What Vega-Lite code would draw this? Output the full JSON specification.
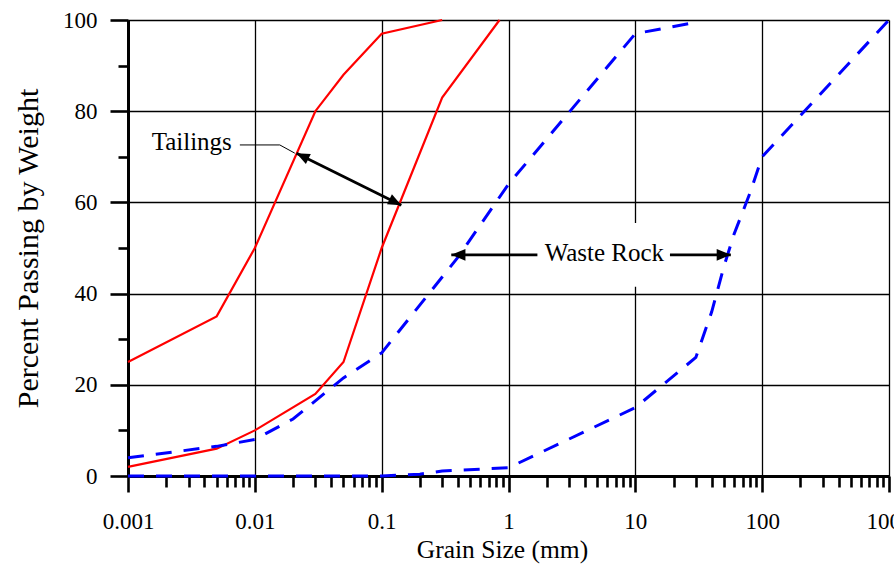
{
  "$schema": "https://vega.github.io/schema/vega-lite/v6.json",
  "width": 761,
  "height": 456,
  "autosize": {"type": "none"},
  "padding": {"left": 128, "top": 20, "right": 5, "bottom": 88},
  "background": "white",
  "config": {"view": {"stroke": null}, "font": "Liberation Serif"},
  "datasets": {
    "curves": [
      {"material": "Tailings", "curve": "T1", "mm": 0.001, "pct": 25},
      {"material": "Tailings", "curve": "T1", "mm": 0.005, "pct": 35},
      {"material": "Tailings", "curve": "T1", "mm": 0.01, "pct": 50},
      {"material": "Tailings", "curve": "T1", "mm": 0.03, "pct": 80},
      {"material": "Tailings", "curve": "T1", "mm": 0.05, "pct": 88},
      {"material": "Tailings", "curve": "T1", "mm": 0.1, "pct": 97},
      {"material": "Tailings", "curve": "T1", "mm": 0.3, "pct": 100},
      {"material": "Tailings", "curve": "T2", "mm": 0.001, "pct": 2},
      {"material": "Tailings", "curve": "T2", "mm": 0.005, "pct": 6},
      {"material": "Tailings", "curve": "T2", "mm": 0.01, "pct": 10},
      {"material": "Tailings", "curve": "T2", "mm": 0.03, "pct": 18},
      {"material": "Tailings", "curve": "T2", "mm": 0.05, "pct": 25},
      {"material": "Tailings", "curve": "T2", "mm": 0.1, "pct": 50},
      {"material": "Tailings", "curve": "T2", "mm": 0.3, "pct": 83},
      {"material": "Tailings", "curve": "T2", "mm": 0.85, "pct": 100},
      {"material": "Waste", "curve": "W1", "mm": 0.001, "pct": 4},
      {"material": "Waste", "curve": "W1", "mm": 0.005, "pct": 6.5},
      {"material": "Waste", "curve": "W1", "mm": 0.01, "pct": 8},
      {"material": "Waste", "curve": "W1", "mm": 0.02, "pct": 12.5},
      {"material": "Waste", "curve": "W1", "mm": 0.05, "pct": 21.5},
      {"material": "Waste", "curve": "W1", "mm": 0.1, "pct": 27},
      {"material": "Waste", "curve": "W1", "mm": 0.4, "pct": 48},
      {"material": "Waste", "curve": "W1", "mm": 1, "pct": 64},
      {"material": "Waste", "curve": "W1", "mm": 10, "pct": 97},
      {"material": "Waste", "curve": "W1", "mm": 30, "pct": 99.5},
      {"material": "Waste", "curve": "W2", "mm": 0.001, "pct": 0},
      {"material": "Waste", "curve": "W2", "mm": 0.1, "pct": 0},
      {"material": "Waste", "curve": "W2", "mm": 0.2, "pct": 0.4},
      {"material": "Waste", "curve": "W2", "mm": 0.3, "pct": 1.1},
      {"material": "Waste", "curve": "W2", "mm": 1, "pct": 1.8},
      {"material": "Waste", "curve": "W2", "mm": 10, "pct": 15},
      {"material": "Waste", "curve": "W2", "mm": 30, "pct": 26},
      {"material": "Waste", "curve": "W2", "mm": 40, "pct": 36},
      {"material": "Waste", "curve": "W2", "mm": 50, "pct": 46},
      {"material": "Waste", "curve": "W2", "mm": 60, "pct": 53},
      {"material": "Waste", "curve": "W2", "mm": 80, "pct": 62},
      {"material": "Waste", "curve": "W2", "mm": 100, "pct": 70},
      {"material": "Waste", "curve": "W2", "mm": 1000, "pct": 100}
    ],
    "box": [{"mm": 1.85, "mm2": 17.5, "pct": 41.5, "pct2": 55.5}],
    "leader": [
      {"mm": 0.00762, "pct": 72.6},
      {"mm": 0.01573, "pct": 72.6},
      {"mm": 0.02065, "pct": 70.8}
    ],
    "shafts": [
      {"id": "tail", "mm": 0.0213, "pct": 70.8},
      {"id": "tail", "mm": 0.1429, "pct": 59.4},
      {"id": "wl", "mm": 0.354, "pct": 48.5},
      {"id": "wl", "mm": 1.69, "pct": 48.5},
      {"id": "wr", "mm": 18.75, "pct": 48.5},
      {"id": "wr", "mm": 56.6, "pct": 48.5}
    ],
    "heads": [
      {"id": "t1", "mm": 0.0213, "pct": 70.8},
      {"id": "t2", "mm": 0.1429, "pct": 59.4},
      {"id": "w1", "mm": 0.354, "pct": 48.5},
      {"id": "w2", "mm": 56.6, "pct": 48.5}
    ],
    "labels": [
      {"mm": 0.00318, "pct": 71.6, "label": "Tailings"},
      {"mm": 5.7, "pct": 47.1, "label": "Waste Rock"}
    ]
  },
  "encoding": {
    "x": {
      "field": "mm",
      "type": "quantitative",
      "title": "Grain Size (mm)",
      "scale": {"type": "log", "domain": [0.001, 1000], "nice": false},
      "axis": {
        "values": [0.001, 0.002, 0.003, 0.004, 0.005, 0.006, 0.007, 0.008, 0.009,
                   0.01, 0.02, 0.03, 0.04, 0.05, 0.06, 0.07, 0.08, 0.09,
                   0.1, 0.2, 0.3, 0.4, 0.5, 0.6, 0.7, 0.8, 0.9,
                   1, 2, 3, 4, 5, 6, 7, 8, 9,
                   10, 20, 30, 40, 50, 60, 70, 80, 90,
                   100, 200, 300, 400, 500, 600, 700, 800, 900, 1000],
        "format": "~g",
        "labelExpr": "abs(log(datum.value)/LN10 - round(log(datum.value)/LN10)) < 0.000001 ? datum.label : ''",
        "labelOverlap": false,
        "labelFlush": false,
        "labelBound": false,
        "labelFont": "Liberation Serif",
        "labelFontSize": 23,
        "labelColor": "#000000",
        "labelPadding": 18,
        "tickSize": {"condition": {"test": "abs(log(datum.value)/LN10 - round(log(datum.value)/LN10)) < 0.000001", "value": 16}, "value": 11},
        "tickColor": "#000000",
        "tickWidth": 2.6,
        "domainColor": "#000000",
        "domainWidth": 3,
        "grid": true,
        "gridColor": "#000000",
        "gridWidth": 1.3,
        "gridOpacity": {"condition": {"test": "abs(log(datum.value)/LN10 - round(log(datum.value)/LN10)) < 0.000001", "value": 1}, "value": 0},
        "titleFont": "Liberation Serif",
        "titleFontSize": 25.5,
        "titleFontWeight": "normal",
        "titleColor": "#000000",
        "titleX": 374,
        "titlePadding": 4
      }
    },
    "y": {
      "field": "pct",
      "type": "quantitative",
      "title": "Percent Passing by Weight",
      "scale": {"domain": [0, 100], "nice": false, "zero": false},
      "axis": {
        "values": [0, 10, 20, 30, 40, 50, 60, 70, 80, 90, 100],
        "labelExpr": "datum.value % 20 == 0 ? datum.label : ''",
        "labelOverlap": false,
        "labelFlush": false,
        "labelBound": false,
        "labelFont": "Liberation Serif",
        "labelFontSize": 23,
        "labelColor": "#000000",
        "labelPadding": 13,
        "tickSize": {"condition": {"test": "datum.value % 20 == 0", "value": 18}, "value": 10},
        "tickColor": "#000000",
        "tickWidth": 2.6,
        "domainColor": "#000000",
        "domainWidth": 3,
        "grid": true,
        "gridColor": "#000000",
        "gridWidth": 1.3,
        "gridOpacity": {"condition": {"test": "datum.value % 20 == 0", "value": 1}, "value": 0},
        "titleFont": "Liberation Serif",
        "titleFontSize": 30,
        "titleFontWeight": "normal",
        "titleColor": "#000000",
        "titlePadding": 19
      }
    }
  },
  "layer": [
    {
      "data": {"name": "box"},
      "mark": {"type": "rect", "fill": "white", "stroke": null},
      "encoding": {"x2": {"field": "mm2"}, "y2": {"field": "pct2"}}
    },
    {
      "data": {"name": "curves"},
      "transform": [{"filter": "datum.material == 'Tailings'"}],
      "mark": {"type": "line", "color": "#FF0000", "strokeWidth": 2.2},
      "encoding": {"detail": {"field": "curve"}}
    },
    {
      "data": {"name": "curves"},
      "transform": [{"filter": "datum.material == 'Waste'"}],
      "mark": {"type": "line", "color": "#0000FF", "strokeWidth": 3, "strokeDash": [16, 12]},
      "encoding": {"detail": {"field": "curve"}}
    },
    {
      "data": {"name": "leader"},
      "mark": {"type": "line", "color": "#000000", "strokeWidth": 1},
      "encoding": {}
    },
    {
      "data": {"name": "shafts"},
      "mark": {"type": "line", "color": "#000000", "strokeWidth": 2.8},
      "encoding": {"detail": {"field": "id"}}
    },
    {
      "data": {"name": "heads"},
      "transform": [{"filter": "datum.id == 't1'"}],
      "mark": {"type": "point", "shape": "M 0 0 L -1 -0.42 L -1 0.42 Z", "filled": true, "color": "#000000", "opacity": 1, "size": 700, "angle": 206.2}
    },
    {
      "data": {"name": "heads"},
      "transform": [{"filter": "datum.id == 't2'"}],
      "mark": {"type": "point", "shape": "M 0 0 L -1 -0.42 L -1 0.42 Z", "filled": true, "color": "#000000", "opacity": 1, "size": 700, "angle": 26.2}
    },
    {
      "data": {"name": "heads"},
      "transform": [{"filter": "datum.id == 'w1'"}],
      "mark": {"type": "point", "shape": "M 0 0 L -1 -0.42 L -1 0.42 Z", "filled": true, "color": "#000000", "opacity": 1, "size": 800, "angle": 180}
    },
    {
      "data": {"name": "heads"},
      "transform": [{"filter": "datum.id == 'w2'"}],
      "mark": {"type": "point", "shape": "M 0 0 L -1 -0.42 L -1 0.42 Z", "filled": true, "color": "#000000", "opacity": 1, "size": 800, "angle": 0}
    },
    {
      "data": {"name": "labels"},
      "mark": {"type": "text", "font": "Liberation Serif", "fontSize": 25, "color": "#000000", "align": "center", "baseline": "alphabetic"},
      "encoding": {"text": {"field": "label"}}
    }
  ]
}
